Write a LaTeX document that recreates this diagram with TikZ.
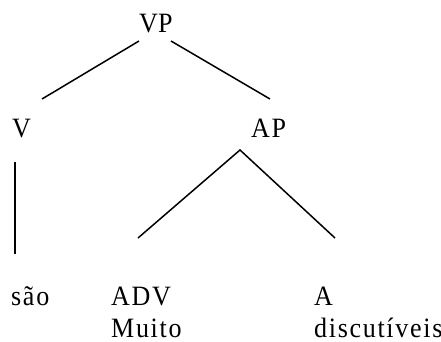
\documentclass[tikz,border=0pt]{standalone}
\usepackage{fontspec}
\setmainfont{Liberation Serif}[FakeStretch=0.93]
\newfontfamily\spaced{Liberation Serif}[FakeStretch=0.93,LetterSpace=6]
\begin{document}
\begin{tikzpicture}[x=1pt,y=-1pt,
  lab/.style={inner sep=0pt, anchor=base west, font=\fontsize{28}{32}\selectfont},
  slab/.style={lab, font=\fontsize{28}{32}\selectfont\spaced},
  edge/.style={line width=1.5pt}]
\useasboundingbox (0,0) rectangle (441,341);
\node[lab] (VP) at (139,32) {VP};
\node[lab] (V) at (12,137) {V};
\node[slab] (AP) at (251,137) {AP};
\node[slab] (sao) at (11,305) {são};
\node[slab] (ADV) at (111,305) {ADV};
\node[slab] (Muito) at (111,337) {Muito};
\node[lab] (A) at (314,305) {A};
\node[slab] (disc) at (314,337) {discutíveis};
\coordinate (vpL) at (139,41);
\coordinate (vpR) at (171,41);
\coordinate (vT) at (42,99);
\coordinate (apT) at (270,99);
\coordinate (vB) at (15,162);
\coordinate (saoT) at (15,254);
\coordinate (apB) at (240,150);
\coordinate (advT) at (138,238);
\coordinate (aT) at (335,238);
\draw[edge] (vpL) -- (vT);
\draw[edge] (vpR) -- (apT);
\draw[edge] (vB) -- (saoT);
\draw[edge] (advT) -- (apB) -- (aT);
\end{tikzpicture}
\end{document}
